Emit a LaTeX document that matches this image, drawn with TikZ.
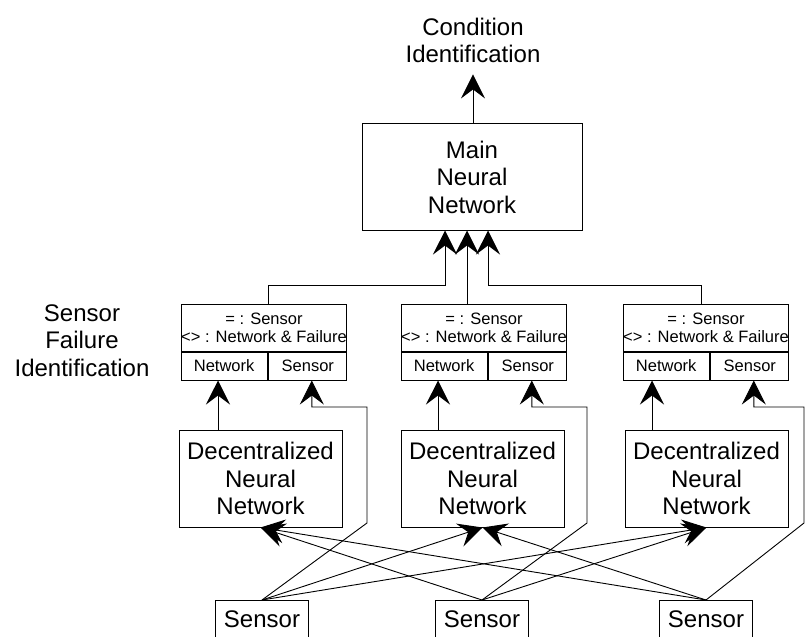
\documentclass[tikz,border=0pt]{standalone}
\usepackage{fontspec}
\setmainfont{Liberation Sans}
\usetikzlibrary{arrows.meta,positioning}
\newcommand{\bigfont}{\fontsize{24bp}{27.5bp}\selectfont}
\newcommand{\smallfont}{\fontsize{16.5bp}{18bp}\selectfont}
\tikzset{
  blk/.style={draw,line width=1bp,inner sep=0pt,align=center,font=\bigfont},
  hdr/.style={draw,line width=1bp,inner sep=0pt,minimum width=164bp,minimum height=47bp,align=center,font=\smallfont},
  cell/.style={draw,line width=1bp,inner sep=0pt,minimum height=28bp,font=\smallfont},
  lbl/.style={inner sep=0pt,align=center,font=\bigfont},
  flow/.style={line width=0.9bp,-{Stealth[length=24bp,width=24bp,inset=9bp]}}
}

\begin{document}
\begin{tikzpicture}[x=1bp,y=-1bp]
\useasboundingbox (0,0) rectangle (805,637);
% ---- main network ----
\node[lbl,anchor=base,inner ysep=11bp] (cond) at (473,63) {Condition\\Identification};
\node[blk,minimum width=220bp,minimum height=106bp] (main) at (472,177) {Main\\Neural\\Network};
\draw[flow] (main.north -| cond.south) -- (cond.south);
\node[lbl,anchor=base] (sfi) at (82,376) {Sensor\\Failure\\Identification};
% ---- one column per sensor ----
\foreach \c/\sx/\dx/\sn/\nx/\fx in {A/182/179/262/218/367, B/402/401/482/438/587, C/624/625/706/652/804}{
  \node[hdr] (hd\c) at (\sx+82,327.5) {= : Sensor\\<> : Network \& Failure};
  \node[cell,minimum width=86bp,anchor=north west] (nt\c) at (hd\c.south west) {Network};
  \node[cell,minimum width=78bp,anchor=north east] (se\c) at (hd\c.south east) {Sensor};
  \node[blk,minimum width=163bp,minimum height=97bp] (dn\c) at (\dx+81.5,478.5) {Decentralized\\Neural\\Network};
  \node[blk,minimum width=93bp,minimum height=50bp,text depth=13bp,anchor=north] (sn\c) at (\sn,600) {Sensor};
  \draw[flow] (dn\c.north -| \nx,0) -- (nt\c.south -| \nx,0);
  \draw[flow] (sn\c.north) -- (\fx,523) -- (\fx,407) -| ([xshift=4bp]se\c.south);
}
% sensors into the other networks
\foreach \s/\d in {A/B,A/C,B/A,B/C,C/A,C/B}
  \draw[flow] (sn\s.north) -- (dn\d.south);
% failure checks up to the main network
\coordinate (inA) at ([xshift=-27bp]main.south);
\coordinate (inB) at ([xshift=-5bp]main.south);
\coordinate (inC) at ([xshift=16bp]main.south);
\draw[flow] ([xshift=4bp]hdA.north) -- ++(0,-18) -| (inA);
\draw[flow] (hdB.north -| inB) -- (inB);
\draw[flow] ([xshift=-5bp]hdC.north) -- ++(0,-18) -| (inC);
\end{tikzpicture}
\end{document}
